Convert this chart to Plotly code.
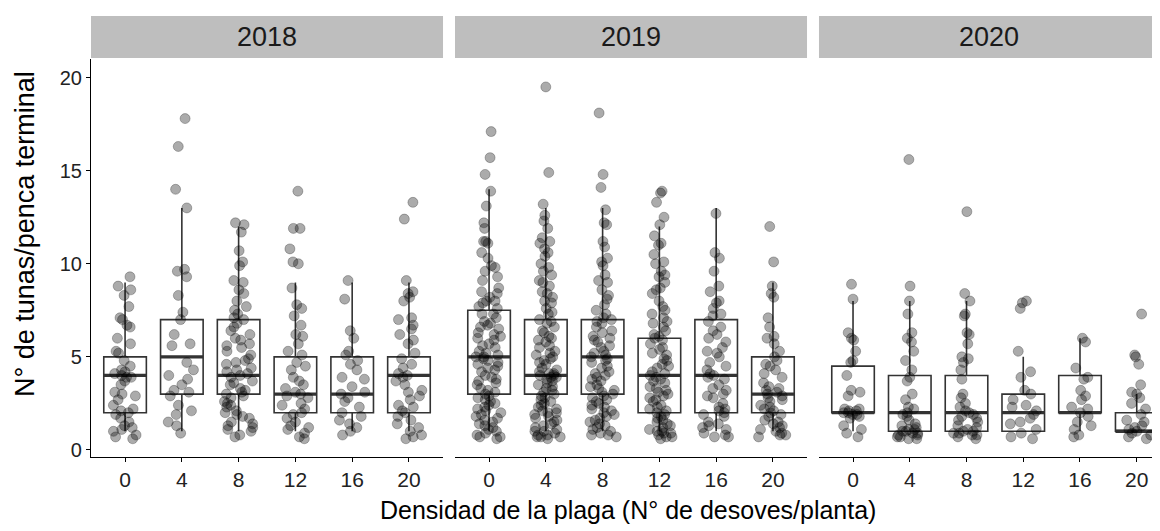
import plotly.graph_objects as go
from plotly.subplots import make_subplots

years = ["2018", "2019", "2020"]
densidad = ["0", "4", "8", "12", "16", "20"]

# N° de tunas por penca, un listado por densidad
tunas_2018 = [
    [9.3, 8.8, 8.6, 8.3, 7.7, 7.1, 7.0, 6.7, 6.6, 6.0, 5.7, 5.3, 5.2, 4.8, 4.5, 4.3, 4.2, 4.1, 4.0, 3.9, 3.9,
     3.7, 3.5, 3.1, 3.0, 2.9, 2.7, 2.4, 2.2, 2.1, 2.0, 1.9, 1.7, 1.5, 1.3, 1.2, 1.1, 1.0, 0.8, 0.7, 0.6],
    [17.8, 16.3, 14.0, 13.0, 9.7, 9.6, 9.3, 8.3, 7.4, 7.0, 6.2, 5.7, 5.6, 4.7, 4.3, 4.0, 3.8, 3.5, 3.2, 3.1,
     2.9, 2.4, 2.1, 1.9, 1.5, 1.3, 0.9],
    [12.2, 12.1, 11.7, 10.7, 10.1, 9.9, 9.1, 9.0, 8.6, 8.4, 8.0, 7.7, 7.5, 7.3, 7.1, 7.0, 6.8, 6.6, 6.4, 6.2,
     6.0, 5.9, 5.7, 5.6, 5.5, 5.3, 5.1, 4.9, 4.8, 4.7, 4.6, 4.4, 4.3, 4.2, 4.1, 4.0, 3.9, 3.7, 3.6, 3.5, 3.3,
     3.2, 3.1, 3.0, 2.9, 2.8, 2.6, 2.5, 2.4, 2.3, 2.1, 2.0, 1.9, 1.8, 1.7, 1.5, 1.4, 1.3, 1.2, 1.1, 1.0, 0.8,
     0.7],
    [13.9, 11.9, 11.9, 10.8, 10.1, 10.0, 8.7, 7.8, 7.6, 7.2, 6.7, 6.2, 6.1, 5.7, 5.3, 5.1, 4.7, 4.5, 4.3, 3.9,
     3.7, 3.5, 3.3, 3.1, 3.0, 2.9, 2.8, 2.5, 2.4, 2.2, 2.0, 1.9, 1.7, 1.5, 1.3, 1.2, 1.1, 0.9, 0.7, 0.6],
    [9.1, 8.1, 6.4, 6.0, 5.3, 5.1, 4.8, 4.6, 4.3, 3.9, 3.8, 3.4, 3.1, 3.0, 2.8, 2.6, 2.3, 2.0, 1.8, 1.6, 1.4,
     1.2, 1.0, 0.8],
    [13.3, 12.4, 9.1, 8.5, 8.4, 8.2, 8.0, 7.1, 7.0, 6.7, 6.5, 6.2, 5.9, 5.7, 5.2, 4.9, 4.6, 4.4, 4.1, 4.0, 3.9,
     3.7, 3.5, 3.2, 3.1, 2.9, 2.7, 2.4, 2.3, 2.1, 2.0, 1.8, 1.6, 1.4, 1.2, 1.0, 0.8, 0.7, 0.6],
]
tunas_2019 = [
    [17.1, 15.7, 14.8, 13.9, 13.1, 12.2, 11.9, 11.2, 11.2, 11.1, 10.6, 10.3, 9.9, 9.8, 9.6, 9.3, 9.1, 8.7,
     8.5, 8.4, 8.2, 8.0, 8.0, 7.9, 7.7, 7.6, 7.3, 7.3, 7.1, 6.9, 6.8, 6.7, 6.6, 6.5, 6.3, 6.2, 6.1, 6.0, 5.9,
     5.7, 5.6, 5.5, 5.3, 5.2, 5.1, 5.0, 5.0, 4.9, 4.8, 4.7, 4.6, 4.5, 4.4, 4.3, 4.2, 4.0, 3.9, 3.8, 3.7, 3.6,
     3.5, 3.3, 3.2, 3.1, 3.0, 2.9, 2.8, 2.7, 2.6, 2.5, 2.4, 2.3, 2.2, 2.1, 2.0, 1.9, 1.8, 1.7, 1.6, 1.5, 1.4,
     1.3, 1.2, 1.1, 1.0, 0.9, 0.8, 0.7, 0.7, 0.6],
    [19.5, 14.9, 13.2, 12.6, 12.3, 11.9, 11.4, 11.2, 11.1, 10.8, 10.6, 10.4, 10.0, 9.8, 9.6, 9.4, 9.1, 9.0,
     8.8, 8.5, 8.4, 8.2, 8.0, 7.9, 7.6, 7.4, 7.3, 7.0, 6.9, 6.8, 6.6, 6.4, 6.3, 6.1, 6.0, 5.9, 5.8, 5.6, 5.5,
     5.3, 5.2, 5.1, 5.0, 4.9, 4.8, 4.7, 4.6, 4.4, 4.3, 4.2, 4.1, 4.1, 4.0, 4.0, 3.9, 3.9, 3.8, 3.7, 3.6, 3.5,
     3.4, 3.3, 3.2, 3.1, 3.0, 2.9, 2.8, 2.7, 2.6, 2.5, 2.4, 2.3, 2.2, 2.1, 2.0, 2.0, 1.9, 1.8, 1.7, 1.6, 1.5,
     1.4, 1.3, 1.2, 1.1, 1.0, 1.0, 0.9, 0.8, 0.8, 0.7, 0.7, 0.7, 0.6],
    [18.1, 14.8, 14.1, 12.9, 12.2, 12.1, 11.2, 10.9, 10.3, 10.1, 9.9, 9.4, 9.1, 9.0, 8.6, 8.3, 8.1, 7.8, 7.5,
     7.3, 7.1, 7.0, 6.9, 6.8, 6.6, 6.4, 6.3, 6.1, 6.0, 5.9, 5.8, 5.6, 5.5, 5.3, 5.2, 5.1, 5.0, 4.9, 4.8, 4.7,
     4.5, 4.4, 4.2, 4.1, 4.0, 3.9, 3.8, 3.7, 3.5, 3.4, 3.3, 3.2, 3.1, 3.0, 2.9, 2.8, 2.7, 2.6, 2.5, 2.4, 2.3,
     2.2, 2.1, 2.0, 1.9, 1.8, 1.7, 1.6, 1.5, 1.4, 1.3, 1.2, 1.1, 1.0, 0.9, 0.8, 0.8, 0.7],
    [13.9, 13.8, 13.3, 12.5, 12.1, 11.5, 11.1, 11.0, 10.5, 10.1, 10.0, 9.6, 9.4, 9.3, 9.0, 8.7, 8.6, 8.4,
     8.0, 7.7, 7.5, 7.3, 7.1, 6.9, 6.8, 6.6, 6.4, 6.2, 6.1, 6.0, 5.9, 5.7, 5.5, 5.4, 5.2, 5.1, 4.9, 4.8, 4.6,
     4.5, 4.4, 4.2, 4.1, 4.0, 3.9, 3.8, 3.7, 3.6, 3.4, 3.3, 3.2, 3.1, 3.0, 2.9, 2.8, 2.7, 2.6, 2.4, 2.3, 2.2,
     2.1, 2.0, 1.9, 1.8, 1.7, 1.6, 1.5, 1.4, 1.3, 1.2, 1.1, 1.0, 1.0, 0.9, 0.9, 0.8, 0.7, 0.7, 0.6],
    [12.7, 10.6, 10.3, 9.6, 8.8, 8.5, 8.0, 7.9, 7.6, 7.3, 7.2, 6.9, 6.6, 6.4, 6.2, 6.0, 5.8, 5.5, 5.3, 5.2,
     5.0, 4.7, 4.5, 4.3, 4.1, 4.0, 3.9, 3.8, 3.5, 3.3, 3.2, 3.0, 2.9, 2.8, 2.5, 2.3, 2.2, 2.1, 2.0, 1.9, 1.8,
     1.5, 1.4, 1.3, 1.2, 1.1, 0.9, 0.8, 0.7, 0.7],
    [12.0, 10.1, 8.8, 8.4, 8.2, 7.1, 6.6, 6.1, 6.0, 5.7, 5.3, 5.0, 4.8, 4.6, 4.5, 4.3, 4.1, 3.9, 3.6, 3.4,
     3.3, 3.2, 3.1, 3.0, 2.9, 2.8, 2.7, 2.6, 2.4, 2.3, 2.2, 2.1, 2.0, 1.9, 1.8, 1.6, 1.5, 1.4, 1.3, 1.2, 1.1,
     1.0, 0.9, 0.8, 0.8, 0.7],
]
tunas_2020 = [
    [8.9, 8.1, 6.3, 6.0, 5.9, 5.3, 4.8, 4.7, 4.0, 3.2, 3.1, 2.9, 2.2, 2.2, 2.1, 2.1, 2.0, 2.0, 1.9, 1.9, 1.8,
     1.7, 1.3, 1.1, 0.9, 0.7],
    [15.6, 8.8, 8.0, 7.3, 6.3, 6.0, 5.8, 5.3, 4.8, 4.3, 3.9, 3.7, 3.0, 2.7, 2.3, 2.2, 2.0, 1.9, 1.8, 1.6, 1.4,
     1.3, 1.2, 1.1, 1.1, 1.0, 1.0, 0.9, 0.9, 0.8, 0.8, 0.7, 0.7, 0.6, 0.6],
    [12.8, 8.4, 8.0, 7.3, 7.2, 6.3, 6.2, 5.7, 5.0, 4.9, 4.7, 4.3, 3.8, 3.0, 2.8, 2.5, 2.3, 2.1, 2.0, 1.9, 1.8,
     1.7, 1.6, 1.5, 1.3, 1.2, 1.1, 1.0, 1.0, 0.9, 0.9, 0.8, 0.8, 0.7, 0.6],
    [8.0, 7.9, 7.6, 5.3, 4.2, 3.9, 3.2, 3.0, 2.7, 2.4, 2.3, 2.1, 1.9, 1.7, 1.5, 1.4, 1.1, 0.9, 0.7, 0.6],
    [6.0, 5.8, 4.4, 3.9, 3.8, 3.2, 2.9, 2.7, 2.3, 2.2, 2.0, 1.8, 1.5, 1.3, 1.1, 0.8, 0.7],
    [7.3, 5.1, 5.0, 4.6, 3.5, 3.1, 3.0, 2.8, 2.5, 2.2, 1.9, 1.6, 1.5, 1.3, 1.2, 1.1, 1.0, 0.9, 0.8, 0.7, 0.6],
]
tunas = [tunas_2018, tunas_2019, tunas_2020]

# estadisticos de las cajas
q1 = [[2, 3, 3, 2, 2, 2], [3, 3, 3, 2, 2, 2], [2, 1, 1, 1, 2, 1]]
mediana = [[4, 5, 4, 3, 3, 4], [5, 4, 5, 4, 4, 3], [2, 2, 2, 2, 2, 1]]
q3 = [[5, 7, 7, 5, 5, 5], [7.5, 7, 7, 6, 7, 5], [4.5, 4, 4, 3, 4, 2]]
bigote_inf = [[1, 1, 1, 1, 1, 1], [1, 1, 1, 1, 1, 1], [1, 1, 1, 1, 1, 1]]
bigote_sup = [[9, 13, 12, 9, 9, 9], [14, 13, 13, 12, 13, 9], [8, 8, 8, 5, 6, 3]]

FONT = "Liberation Sans, Arial, sans-serif"
BOX_COL = "#333333"

fig = make_subplots(rows=1, cols=3, shared_yaxes=True)

for i, year in enumerate(years):
    col = i + 1
    fig.add_trace(go.Box(
        x=densidad, q1=q1[i], median=mediana[i], q3=q3[i],
        lowerfence=bigote_inf[i], upperfence=bigote_sup[i],
        boxpoints=False, width=0.75, whiskerwidth=0,
        line=dict(color=BOX_COL, width=1.6), fillcolor="rgba(0,0,0,0)",
        showlegend=False, hoverinfo="skip"), row=1, col=col)
    # linea de la mediana mas gruesa
    fig.add_trace(go.Box(
        x=densidad, q1=mediana[i], median=mediana[i], q3=mediana[i],
        lowerfence=mediana[i], upperfence=mediana[i],
        boxpoints=False, width=0.75, whiskerwidth=0,
        line=dict(color=BOX_COL, width=3.2), fillcolor="rgba(0,0,0,0)",
        showlegend=False, hoverinfo="skip"), row=1, col=col)
    xs = [d for d, vals in zip(densidad, tunas[i]) for _ in vals]
    ys = [v for vals in tunas[i] for v in vals]
    fig.add_trace(go.Box(
        x=xs, y=ys, boxpoints="all", jitter=0.7, pointpos=0, width=0.75,
        line=dict(width=0, color="rgba(0,0,0,0)"), fillcolor="rgba(0,0,0,0)",
        marker=dict(size=10, color="rgba(0,0,0,0.33)",
                    line=dict(width=1, color="rgba(0,0,0,0.25)")),
        showlegend=False), row=1, col=col)

# dominios de los paneles (el tercero queda recortado a la derecha)
domains = [[0.0, 0.3293], [0.3405, 0.6698], [0.6810, 1.0]]
ranges = [[-0.6, 5.6], [-0.6, 5.6], [-0.6, 5.41]]
for i in range(3):
    fig.update_xaxes(
        domain=domains[i], range=ranges[i], type="category",
        categoryorder="array", categoryarray=densidad,
        showline=True, linecolor="black", linewidth=1.2,
        ticks="outside", ticklen=4, tickcolor="black",
        tickfont=dict(size=21, color="#222", family=FONT),
        showgrid=False, zeroline=False, row=1, col=i + 1)

fig.update_yaxes(range=[-0.38, 21.0], showgrid=False, zeroline=False)
fig.update_yaxes(
    tickvals=[0, 5, 10, 15, 20], showline=True, linecolor="black", linewidth=1.2,
    ticks="outside", ticklen=4, tickcolor="black",
    tickfont=dict(size=20, color="#222", family=FONT), row=1, col=1)
for c in (2, 3):
    fig.update_yaxes(showline=False, showticklabels=False, ticks="", row=1, col=c)

# cabeceras de las facetas
for i, year in enumerate(years):
    fig.add_shape(type="rect", xref="paper", yref="paper",
                  x0=domains[i][0], x1=domains[i][1], y0=1.0025, y1=1.108,
                  fillcolor="#bebebe", line=dict(width=0), layer="below")
    fig.add_annotation(text=year, xref="paper", yref="paper",
                       x=(domains[i][0] + domains[i][1]) / 2, y=1.055,
                       xanchor="center", yanchor="middle", showarrow=False,
                       font=dict(size=27, color="#1a1a1a", family=FONT))

fig.add_annotation(text="Densidad de la plaga (N° de desoves/planta)",
                   xref="paper", yref="paper", x=0.502, y=0, yshift=-53,
                   xanchor="center", yanchor="middle", showarrow=False,
                   font=dict(size=25, color="black", family=FONT))
fig.add_annotation(text="N° de tunas/penca terminal", textangle=-90,
                   xref="paper", yref="paper", x=0, xshift=-66, y=0.56,
                   xanchor="center", yanchor="middle", showarrow=False,
                   font=dict(size=27, color="black", family=FONT))

# la pagina tiene 8 px de margen en el body: se compensa aqui
fig.update_layout(
    width=1152, height=523,
    margin=dict(l=83, r=0, t=51, b=74),
    plot_bgcolor="white", paper_bgcolor="white",
    boxmode="overlay",
    font=dict(family=FONT),
)

fig.write_html("out.html")
